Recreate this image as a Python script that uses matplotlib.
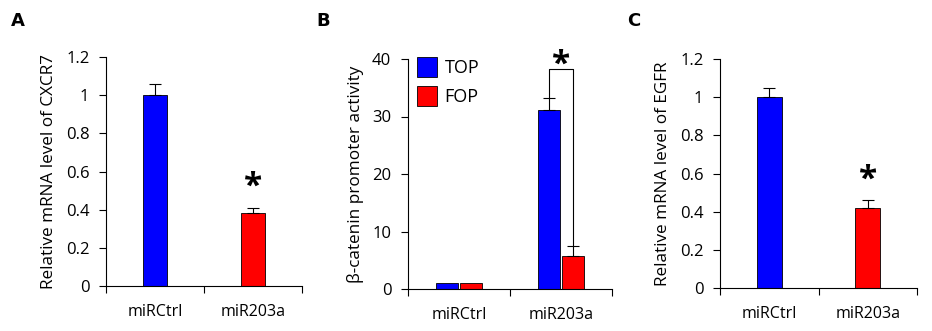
import numpy as np
import matplotlib
matplotlib.use("Agg")
import matplotlib.pyplot as plt

plt.rcParams['font.family'] = ['Open Sans', 'DejaVu Sans']

groups = ["miRCtrl", "miR203a"]

# panel A: CXCR7
cxcr7 = [1.0, 0.38]
cxcr7_err = [0.06, 0.03]

# panel B: TOP/FOP
top = [1.0, 31.2]
top_err = [0.0, 2.1]
fop = [1.0, 5.8]
fop_err = [0.0, 1.7]

# panel C: EGFR
egfr = [1.0, 0.42]
egfr_err = [0.05, 0.04]

W, H = 932, 331
fig = plt.figure(figsize=(W / 100, H / 100), dpi=100)


def make_ax(x0, x1, ytop, ybot):
    ax = fig.add_axes([x0 / W, (H - ybot) / H, (x1 - x0) / W, (ybot - ytop) / H])
    ax.spines['top'].set_visible(False)
    ax.spines['right'].set_visible(False)
    ax.set_xlim(-0.5, 1.5)
    ax.set_xticks([-0.5, 0.5, 1.5])
    ax.set_xticklabels([])
    ax.set_xticks([0, 1], minor=True)
    ax.set_xticklabels(groups, minor=True, fontsize=11.5)
    ax.tick_params(axis='x', which='minor', length=0, pad=13)
    ax.tick_params(axis='x', which='major', direction='out', length=5)
    ax.tick_params(axis='y', direction='out', length=5, labelsize=12, pad=7)
    return ax


x = np.arange(len(groups))
bw = 0.24

# A
axA = make_ax(106, 302, 57, 286)
axA.bar(x, cxcr7, bw, color=['#0000ff', '#ff0000'], edgecolor='black', linewidth=0.6)
axA.errorbar(x, cxcr7, yerr=[np.zeros(2), cxcr7_err], fmt='none', ecolor='black',
             elinewidth=0.8, capsize=4, capthick=0.8)
axA.set_ylim(0, 1.2)
axA.set_yticks([0, 0.2, 0.4, 0.6, 0.8, 1.0, 1.2])
axA.set_yticklabels(['0', '0.2', '0.4', '0.6', '0.8', '1', '1.2'])
axA.set_ylabel("Relative mRNA level of CXCR7", fontsize=12.3, labelpad=6)
axA.text(1, cxcr7[1] + cxcr7_err[1] + 0.02, "*", ha='center', va='bottom', fontsize=24,
         fontweight='bold')
fig.text(18 / W, 1 - 21 / H, "A", fontsize=13, fontweight='bold', ha='center', va='center',
         family='DejaVu Sans')

# B
axB = make_ax(408, 612, 59, 289)
bwB = 0.22
bt = axB.bar(x - 0.12, top, bwB, color='#0000ff', edgecolor='black', linewidth=0.6, label='TOP')
bf = axB.bar(x + 0.12, fop, bwB, color='#ff0000', edgecolor='black', linewidth=0.6, label='FOP')
axB.errorbar(x[1:] - 0.12, top[1:], yerr=[[0], top_err[1:]], fmt='none', ecolor='black',
             elinewidth=0.8, capsize=4, capthick=0.8)
axB.errorbar(x[1:] + 0.12, fop[1:], yerr=[[0], fop_err[1:]], fmt='none', ecolor='black',
             elinewidth=0.8, capsize=4, capthick=0.8)
axB.set_ylim(0, 40)
axB.set_yticks([0, 10, 20, 30, 40])
axB.set_ylabel("β-catenin promoter activity", fontsize=12.3, labelpad=6)
yb = 38.3
axB.plot([1 - 0.12, 1 - 0.12, 1 + 0.12, 1 + 0.12],
         [top[1] + top_err[1], yb, yb, fop[1] + fop_err[1]], color='black', lw=0.8,
         clip_on=False)
axB.text(1, yb - 2.3, "*", ha='center', va='bottom', fontsize=24, fontweight='bold')
leg = axB.legend(loc='upper left', frameon=False, fontsize=13, handlelength=1.11,
                 handleheight=1.33, handletextpad=0.4, labelspacing=0.5,
                 borderaxespad=0, borderpad=0, bbox_to_anchor=(0.045, 1.01))
fig.text(323 / W, 1 - 21 / H, "B", fontsize=13, fontweight='bold', ha='center', va='center',
         family='DejaVu Sans')

# C
axC = make_ax(720, 917, 59, 288)
axC.bar(x, egfr, 0.25, color=['#0000ff', '#ff0000'], edgecolor='black', linewidth=0.6)
axC.errorbar(x, egfr, yerr=[np.zeros(2), egfr_err], fmt='none', ecolor='black',
             elinewidth=0.8, capsize=4, capthick=0.8)
axC.set_ylim(0, 1.2)
axC.set_yticks([0, 0.2, 0.4, 0.6, 0.8, 1.0, 1.2])
axC.set_yticklabels(['0', '0.2', '0.4', '0.6', '0.8', '1', '1.2'])
axC.set_ylabel("Relative mRNA level of EGFR", fontsize=12.3, labelpad=6)
axC.text(1, egfr[1] + egfr_err[1] + 0.02, "*", ha='center', va='bottom', fontsize=24,
         fontweight='bold')
fig.text(634 / W, 1 - 21 / H, "C", fontsize=13, fontweight='bold', ha='center', va='center',
         family='DejaVu Sans')

fig.savefig("out.png", dpi=100)
